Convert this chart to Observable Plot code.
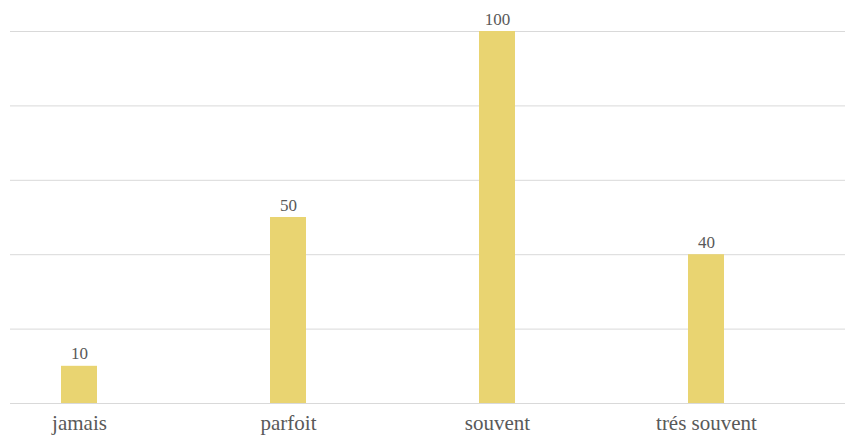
<!DOCTYPE html>
<html>
<head>
<meta charset="utf-8">
<script src="https://cdn.jsdelivr.net/npm/d3@7"></script>
<script src="https://cdn.jsdelivr.net/npm/@observablehq/plot@0.6"></script>
<style>
  html, body { margin: 0; padding: 0; background: #fff; }
  svg text { font-family: "Liberation Serif", serif !important; }
</style>
</head>
<body>
<div id="chart"></div>
<script>
const categories = ["jamais", "parfoit", "souvent", "trés souvent"];
const values = [10, 50, 100, 40];
const yTicks = [0, 20, 40, 60, 80, 100];

const data = categories.map((c, i) => ({category: c, value: values[i]}));

const serif = "Liberation Serif";

const chart = Plot.plot({
  width: 845,
  height: 435,
  marginLeft: 10,
  marginRight: 0,
  marginTop: 31,
  marginBottom: 32,
  style: {fontFamily: serif, background: "#fff"},
  x: {domain: categories, range: [-26, 811], paddingInner: 0.826, paddingOuter: 0.413, label: null},
  y: {domain: [0, 100], label: null},
  marks: [
    Plot.ruleY(yTicks, {stroke: "#d9d9d9", strokeWidth: 1}),
    Plot.barY(data, {x: "category", y: "value", fill: "#E9D471"}),
    Plot.text(data, {x: "category", y: "value", text: d => String(d.value), lineAnchor: "bottom", dy: -7, fontSize: 17, fontFamily: serif, fill: "#595959"}),
    Plot.axisX({tickSize: 0, tickPadding: 12, fontSize: 21, fontFamily: serif, color: "#595959", label: null}),
    Plot.axisY({ticks: [], label: null})
  ]
});
document.getElementById("chart").appendChild(chart);
</script>
</body>
</html>
